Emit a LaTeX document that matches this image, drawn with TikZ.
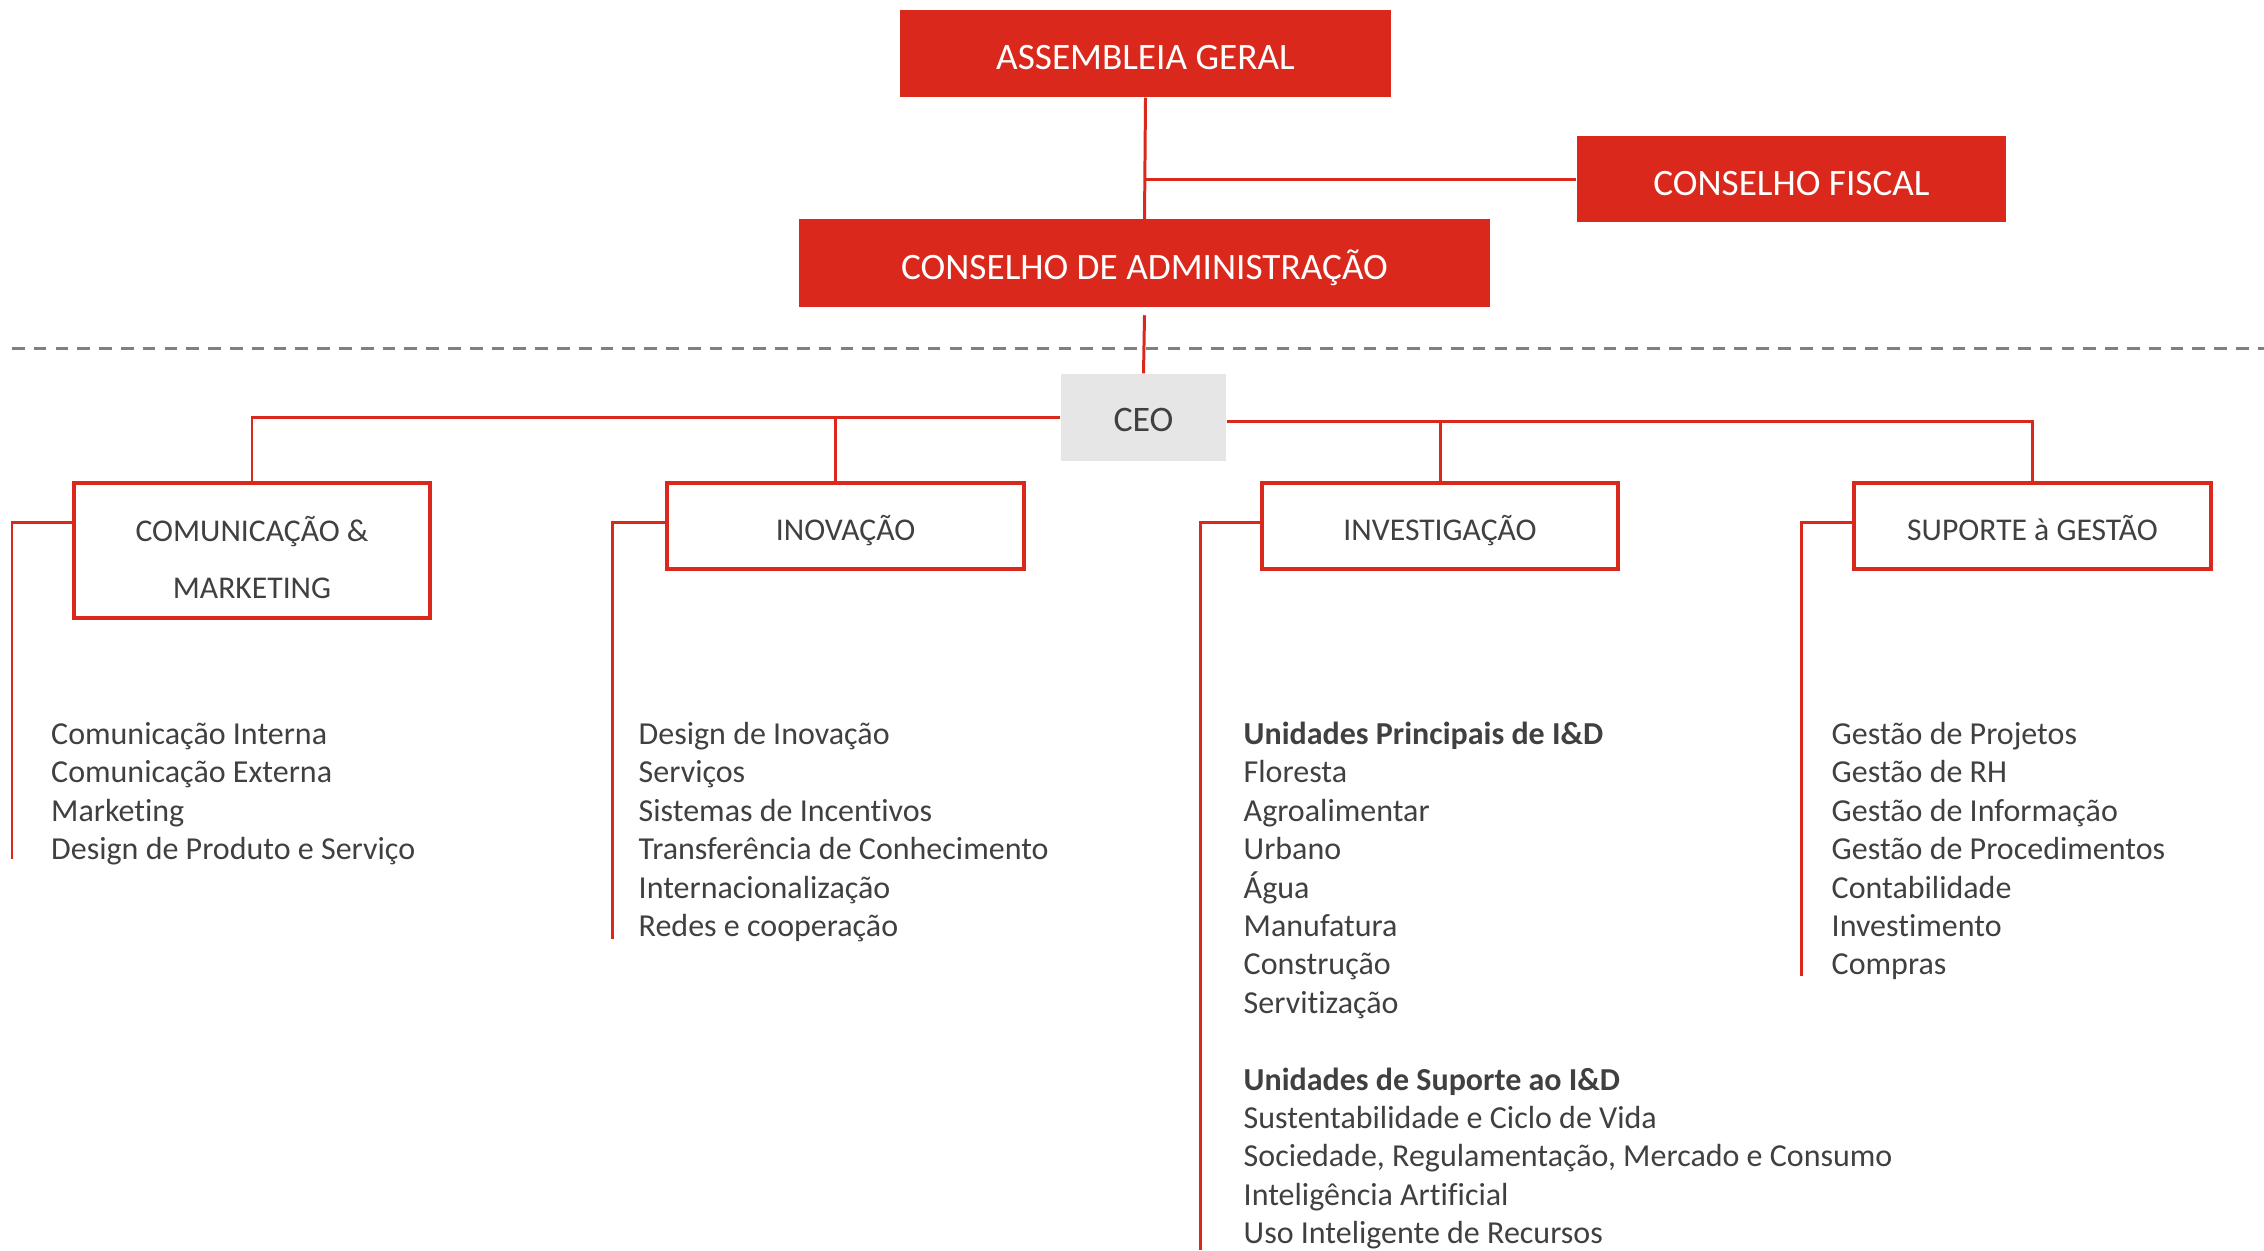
\documentclass[tikz,border=0pt]{standalone}
\usepackage{fontspec}
\setmainfont{Carlito}[Ligatures=NoCommon]
\usepackage{tikz}
\definecolor{orgred}{RGB}{218,41,28}
\definecolor{orggray}{RGB}{64,64,64}
\definecolor{ceofill}{RGB}{230,230,230}
\definecolor{dashgray}{RGB}{128,128,128}

\begin{document}
\begin{tikzpicture}[x=0.01cm, y=-0.01cm,
	redbox/.style={fill=orgred, text=white, inner sep=0pt, text height=9.2pt, text depth=0pt, font=\fontsize{10.6}{12.7}\selectfont},
	outbox/.style={draw=orgred, line width=1.1pt, fill=white, text=orggray, inner sep=0pt, minimum width=3.56cm, minimum height=0.86cm, font=\fontsize{9}{10.9}\selectfont},
	ceobox/.style={fill=ceofill, text=orggray, inner sep=0pt, text height=8.2pt, text depth=0pt, minimum width=1.65cm, minimum height=0.87cm, font=\fontsize{10.2}{12.2}\selectfont},
	link/.style={draw=orgred, line width=0.85pt},
	item/.style={anchor=base west, inner sep=0pt, text=orggray, font=\fontsize{9.1}{10.9}\selectfont}]
	\useasboundingbox (0,0) rectangle (2264,1250);

	\draw[dashgray, line width=0.85pt, dash pattern=on 3.6pt off 2.6pt] (12,348) -- (2264,348);

	\node[redbox, minimum width=4.91cm, minimum height=0.87cm] (assembleia) at (1145.5,53.5) {ASSEMBLEIA GERAL};
	\node[redbox, minimum width=4.29cm, minimum height=0.86cm] (fiscal) at (1791.5,179) {CONSELHO FISCAL};
	\node[redbox, minimum width=6.91cm, minimum height=0.87cm] (conselhoadm) at (1144.5,263) {CONSELHO DE ADMINISTRAÇÃO};
	\node[ceobox] (ceo) at (1143.5,417.5) {CEO};

	\node[outbox, align=center, minimum height=1.35cm] (comunicacao) at (252,550.5) {\rule{0pt}{11.2pt}COMUNICAÇÃO \&\\[5.5pt]MARKETING};
	\node[outbox, text height=8.3pt, text depth=0pt] (inovacao) at (845.5,526) {INOVAÇÃO};
	\node[outbox, text height=8.3pt, text depth=0pt] (investigacao) at (1440,526) {INVESTIGAÇÃO};
	\node[outbox, text height=8.3pt, text depth=0pt] (suporte) at (2032.5,526) {SUPORTE à GESTÃO};

	\coordinate (ceoright) at ([yshift=-0.04cm]ceo.east);
	\coordinate (inovtop) at ([xshift=-0.1cm]inovacao.north);
	\coordinate (comunicacao-end) at (12,859);
	\coordinate (inovacao-end) at (612,939);
	\coordinate (investigacao-end) at (1200,1250);
	\coordinate (suporte-end) at (1801,976);

	\draw[link] (assembleia.south) -- (conselhoadm.north);
	\draw[link] (assembleia.south |- fiscal.west) -- (fiscal.west);
	\draw[link] ([yshift=-0.08cm]conselhoadm.south) -- (ceo.north);
	\draw[link] (ceo.west) -| (comunicacao.north);
	\draw[link] (inovtop) -- (inovtop |- ceo.west);
	\draw[link] (ceoright) -| (suporte.north);
	\draw[link] (investigacao.north) -- (investigacao.north |- ceoright);
	\foreach \n in {comunicacao, inovacao, investigacao, suporte}
		\draw[link] ([yshift=-0.41cm]\n.north west) -| (\n-end);

	\foreach \t [count=\i from 0] in {Comunicação Interna, Comunicação Externa, Marketing, Design de Produto e Serviço}
		\node[item] (com-\i) at (50.5,{744.5+38.4*\i}) {\t};
	\foreach \t [count=\i from 0] in {Design de Inovação, Serviços, Sistemas de Incentivos, Transferência de Conhecimento, Internacionalização, Redes e cooperação}
		\node[item] (inov-\i) at (638,{744.5+38.4*\i}) {\t};
	\foreach \t [count=\i from 0] in {\textbf{Unidades Principais de I\&D}, Floresta, Agroalimentar, Urbano, Água, Manufatura, Construção, Servitização}
		\node[item] (invp-\i) at (1243,{744.5+38.4*\i}) {\t};
	\foreach \t [count=\i from 9] in {\textbf{Unidades de Suporte ao I\&D}, Sustentabilidade e Ciclo de Vida, {Sociedade, Regulamentação, Mercado e Consumo}, Inteligência Artificial, Uso Inteligente de Recursos}
		\node[item] (invs-\i) at (1243,{744.5+38.4*\i}) {\t};
	\foreach \t [count=\i from 0] in {Gestão de Projetos, Gestão de RH, Gestão de Informação, Gestão de Procedimentos, Contabilidade, Investimento, Compras}
		\node[item] (sup-\i) at (1831,{744.5+38.4*\i}) {\t};
\end{tikzpicture}
\end{document}
